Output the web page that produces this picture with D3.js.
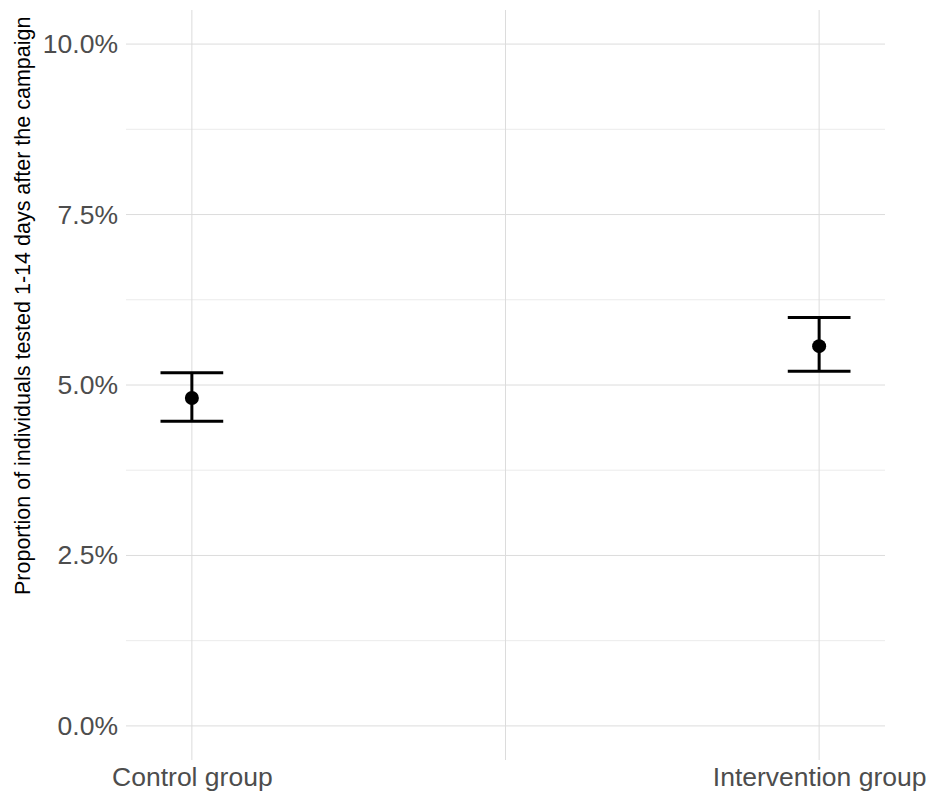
<!DOCTYPE html>
<html>
<head>
<meta charset="utf-8">
<script src="https://cdn.jsdelivr.net/npm/d3@7"></script>
<style>
  html, body { margin: 0; padding: 0; background: #fff; }
  svg { display: block; }
</style>
</head>
<body>
<svg id="chart" width="928" height="794"></svg>
<script>
// ---- data ----
const groups = ["Control group", "Intervention group"];
const groupPos = [1, 2];
const estimates = [4.81, 5.57];
const lowerCI = [4.47, 5.20];
const upperCI = [5.18, 5.99];
const yMajorTicks = [0, 2.5, 5, 7.5, 10];
const yMinorTicks = [1.25, 3.75, 6.25, 8.75];
const xMinorTicks = [1.5];
const yTitle = "Proportion of individuals tested 1-14 days after the campaign";

const svg = d3.select("#chart");
const panel = { left: 126, right: 885, top: 10, bottom: 760 };
const FONT = "'Liberation Sans', Arial, sans-serif";

const x = d3.scaleLinear().domain([0.895, 2.105]).range([panel.left, panel.right]);
const y = d3.scaleLinear().domain([-0.5, 10.5]).range([panel.bottom, panel.top]);

const g = svg.append("g");

// minor gridlines
g.selectAll(".yminor").data(yMinorTicks).enter().append("line")
  .attr("x1", panel.left).attr("x2", panel.right)
  .attr("y1", d => y(d)).attr("y2", d => y(d))
  .attr("stroke", "#e6e6e6").attr("stroke-width", 0.8);
g.selectAll(".xminor").data(xMinorTicks).enter().append("line")
  .attr("y1", panel.top).attr("y2", panel.bottom)
  .attr("x1", d => x(d)).attr("x2", d => x(d))
  .attr("stroke", "#dcdcdc").attr("stroke-width", 1);

// major gridlines
g.selectAll(".ymajor").data(yMajorTicks).enter().append("line")
  .attr("x1", panel.left).attr("x2", panel.right)
  .attr("y1", d => y(d)).attr("y2", d => y(d))
  .attr("stroke", "#dcdcdc").attr("stroke-width", 1);
g.selectAll(".xmajor").data(groupPos).enter().append("line")
  .attr("y1", panel.top).attr("y2", panel.bottom)
  .attr("x1", d => x(d)).attr("x2", d => x(d))
  .attr("stroke", "#dcdcdc").attr("stroke-width", 1);

// y axis labels
const yAxis = d3.axisLeft(y).tickValues(yMajorTicks)
  .tickFormat(d => d.toFixed(1) + "%").tickSize(0).tickPadding(8);
const ya = svg.append("g").attr("transform", `translate(${panel.left},0)`).call(yAxis);
ya.select(".domain").remove();
ya.attr("font-family", null).attr("font-size", null);
ya.selectAll("text").style("font-family", FONT)
  .style("font-size", "26.5px").attr("fill", "#4d4d4d");

// x axis labels
const xAxis = d3.axisBottom(x).tickValues(groupPos)
  .tickFormat((d, i) => groups[i]).tickSize(0).tickPadding(7);
const xa = svg.append("g").attr("transform", `translate(0,${panel.bottom})`).call(xAxis);
xa.select(".domain").remove();
xa.attr("font-family", null).attr("font-size", null);
xa.selectAll("text").style("font-family", FONT)
  .style("font-size", "26.5px").attr("fill", "#4d4d4d");

// y title
svg.append("text")
  .attr("transform", `translate(30,595) rotate(-90)`)
  .attr("text-anchor", "start")
  .style("font-family", FONT)
  .style("font-size", "21.5px").attr("fill", "#000")
  .text(yTitle);

// error bars
const data = groups.map((gname, i) => ({ pos: groupPos[i], est: estimates[i], lo: lowerCI[i], hi: upperCI[i] }));
const capHalf = (x(1.05) - x(1));
const eb = svg.append("g").selectAll("g").data(data).enter().append("g");
eb.append("line")
  .attr("x1", d => x(d.pos)).attr("x2", d => x(d.pos))
  .attr("y1", d => y(d.lo)).attr("y2", d => y(d.hi))
  .attr("stroke", "#000").attr("stroke-width", 3);
eb.append("line")
  .attr("x1", d => x(d.pos) - capHalf).attr("x2", d => x(d.pos) + capHalf)
  .attr("y1", d => y(d.lo)).attr("y2", d => y(d.lo))
  .attr("stroke", "#000").attr("stroke-width", 3);
eb.append("line")
  .attr("x1", d => x(d.pos) - capHalf).attr("x2", d => x(d.pos) + capHalf)
  .attr("y1", d => y(d.hi)).attr("y2", d => y(d.hi))
  .attr("stroke", "#000").attr("stroke-width", 3);
eb.append("circle")
  .attr("cx", d => x(d.pos)).attr("cy", d => y(d.est))
  .attr("r", 7).attr("fill", "#000");
</script>
</body>
</html>
